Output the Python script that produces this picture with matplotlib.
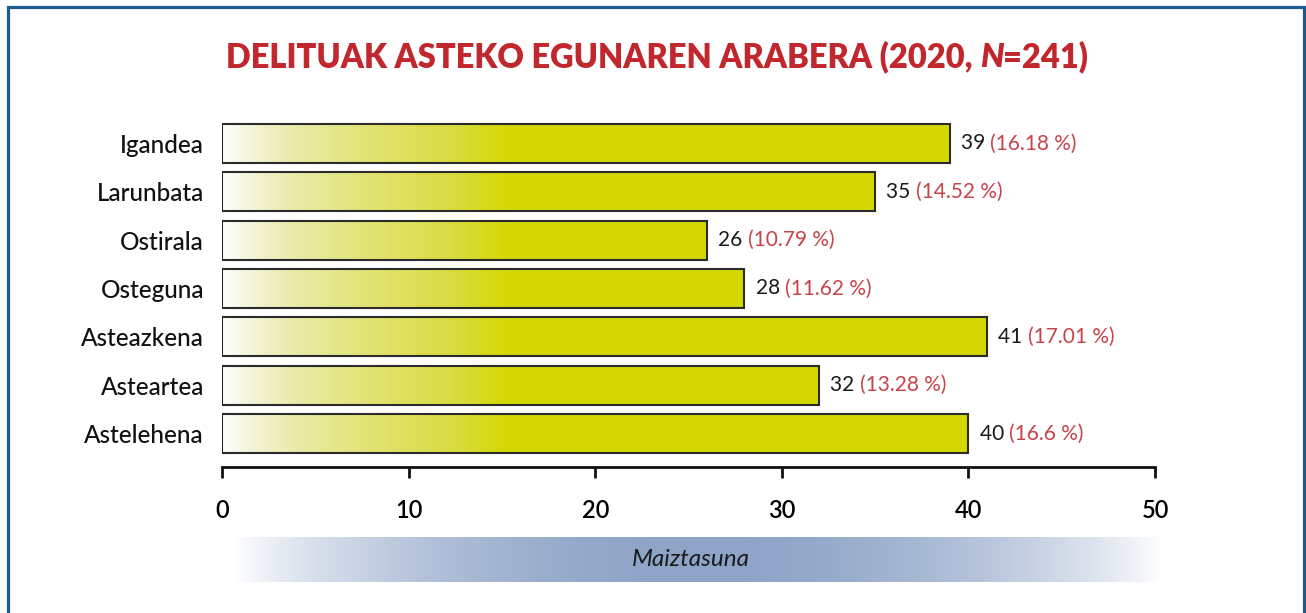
import matplotlib

matplotlib.use("Agg")
import matplotlib.pyplot as plt
import numpy as np
from matplotlib.colors import LinearSegmentedColormap
from matplotlib.offsetbox import AnnotationBbox, HPacker, TextArea
from matplotlib.patches import Rectangle

# --- data (bottom to top as drawn) ---
days = ["Astelehena", "Asteartea", "Asteazkena", "Osteguna", "Ostirala", "Larunbata", "Igandea"]
counts = [40, 32, 41, 28, 26, 35, 39]
shares = ["16.6", "13.28", "17.01", "11.62", "10.79", "14.52", "16.18"]
xticks = [0, 10, 20, 30, 40, 50]

TITLE_RED = "#c1272d"
PCT_RED = "#c8434a"
YELLOW = "#d4d800"
FRAME = "#1d5a8e"
BAND_BLUE = "#8ea4c7"
FONT = "Lato"

plt.rcParams.update({"font.family": [FONT, "DejaVu Sans"]})

fig = plt.figure(figsize=(13.06, 6.13), dpi=100)
fig.patch.set_facecolor("white")

# outer frame (open at the bottom)
fig.add_artist(Rectangle((8 / 1306, -0.05), 1296 / 1306, 1.05 - 7 / 613,
                         transform=fig.transFigure, fill=False,
                         edgecolor=FRAME, lw=2.3))

ax = fig.add_axes([222 / 1306, 146 / 613, 933 / 1306, 347.7 / 613])
ax.set_xlim(0, 50)
ax.set_ylim(-0.693, 6.5)

bar_h = 0.81
grad = np.clip(np.linspace(0, 50, 800) / 15.5, 0, 1)[None, :]
ycmap = LinearSegmentedColormap.from_list(
    "wy", [(0, "#ffffff"), (0.1, "#f4f4da"), (0.25, "#eaeaa8"),
           (0.5, "#e2e474"), (0.8, "#d9dc40"), (1, YELLOW)])
ypos = np.arange(len(days))
bars = ax.barh(ypos, counts, height=bar_h, facecolor="none",
               edgecolor="#2b2b2b", lw=1.5, zorder=3)
for b, y in zip(bars, ypos):
    im = ax.imshow(grad, cmap=ycmap, vmin=0, vmax=1, aspect="auto",
                   extent=[0, 50, y - bar_h / 2, y + bar_h / 2], zorder=2)
    im.set_clip_path(b)

for y, c, s in zip(ypos, counts, shares):
    box = HPacker(children=[
        TextArea(f"{c} ", textprops=dict(fontsize=15, color="#1a1a1a")),
        TextArea(f"({s} %)", textprops=dict(fontsize=15, color=PCT_RED)),
    ], sep=0, pad=0, align="baseline")
    ax.add_artist(AnnotationBbox(box, (c, y), xybox=(8, 0),
                                 xycoords="data", boxcoords="offset points",
                                 box_alignment=(0, 0.5), frameon=False))

ax.set_yticks(ypos)
ax.set_yticklabels(days, fontsize=17.5, fontweight="medium", color="#111111")
ax.tick_params(axis="y", length=0, pad=13)
ax.set_xticks(xticks)
ax.set_xticklabels([str(t) for t in xticks], fontsize=17, fontweight="semibold")
ax.tick_params(axis="x", length=8, width=2, direction="out", pad=15, color="#111111")
for side in ("top", "right", "left"):
    ax.spines[side].set_visible(False)
ax.spines["bottom"].set_linewidth(2)
ax.spines["bottom"].set_color("#111111")

# axis title band
bax = fig.add_axes([235 / 1306, 31 / 613, 925 / 1306, 45 / 613])
t = np.linspace(0, 1, 600)
bcmap = LinearSegmentedColormap.from_list("wb", ["#ffffff", BAND_BLUE])
bax.imshow((np.sin(np.pi * t) ** 0.8)[None, :], cmap=bcmap, vmin=0, vmax=1,
           aspect="auto", extent=[0, 1, 0, 1])
bax.set_axis_off()
bax.text(0.493, 0.5, "Maiztasuna", ha="center", va="center", fontsize=17.5,
         style="italic", color="#1a1a1a", transform=bax.transAxes)

# title with italic N
tprops = dict(fontsize=23.5, fontweight="heavy", color=TITLE_RED)
title = HPacker(children=[
    TextArea("DELITUAK ASTEKO EGUNAREN ARABERA (2020, ", textprops=tprops),
    TextArea("N", textprops=dict(tprops, style="italic")),
    TextArea("=241)", textprops=tprops),
], sep=0, pad=0, align="baseline")
fig.add_artist(AnnotationBbox(title, (657 / 1306, 1 - 57 / 613), xycoords="figure fraction",
                              box_alignment=(0.5, 0.5), frameon=False))

fig.savefig("out.png", dpi=100, facecolor="white")
